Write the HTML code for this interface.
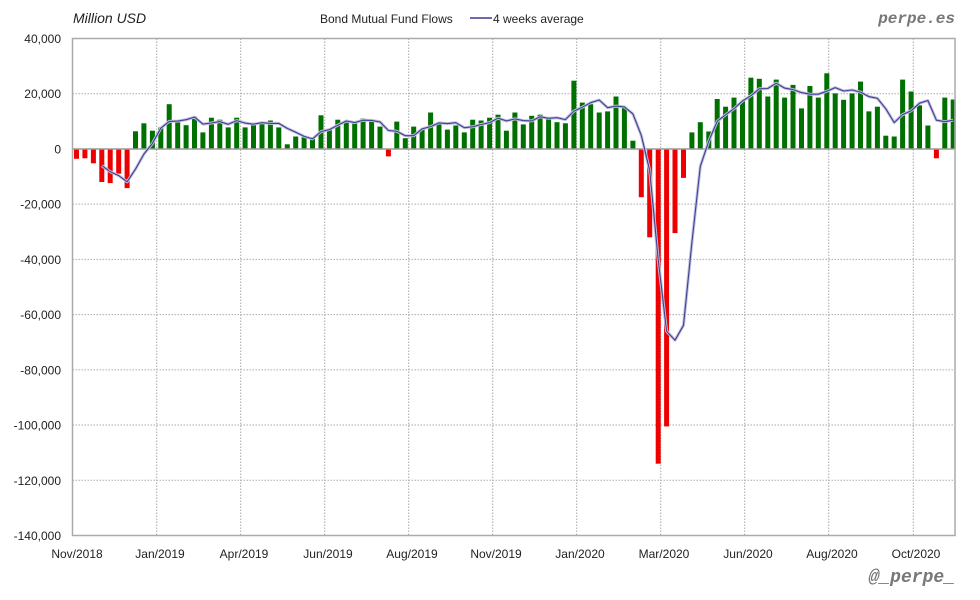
<!DOCTYPE html>
<html><head><meta charset="utf-8"><style>
html,body{margin:0;padding:0;background:#fff}
svg{display:block;font-family:"Liberation Sans",sans-serif}
</style></head><body>
<svg id="c" width="980" height="600" xmlns="http://www.w3.org/2000/svg">
<rect width="980" height="600" fill="#fff"/>
<text x="73" y="23" font-size="14" font-style="italic" fill="#222">Million USD</text>
<text x="320" y="23" font-size="12" fill="#222">Bond Mutual Fund Flows</text>
<line x1="470" y1="18" x2="492" y2="18" stroke="#3a3a90" stroke-width="1.5"/>
<text x="493" y="23" font-size="12" fill="#222">4 weeks average</text>
<text x="955" y="23" font-size="16" font-weight="bold" font-style="italic" fill="#777" text-anchor="end" font-family="Liberation Mono,monospace">perpe.es</text>
<text x="955" y="582" font-size="18" font-weight="bold" font-style="italic" fill="#777" text-anchor="end" font-family="Liberation Mono,monospace">@_perpe_</text>
<g id="g"></g>
</svg>
<script>
var d=[-3.6,-3.4,-5.2,-12,-12.4,-9,-14.2,6.4,9.3,6.6,7.8,16.2,9.7,8.6,11.7,6,11.3,10.6,7.8,11.3,7.8,9,9.9,10.3,7.8,1.7,4.5,4.2,4.2,12.2,7.4,10.6,10.3,9.8,11,10.3,8.1,-2.7,
9.9,3.9,8.1,7.2,13.2,9.3,7,8.5,6,10.6,10.3,11.3,12.4,6.6,13.2,8.9,12,12.4,11.1,9.7,9.3,24.7,16.8,16.2,13.2,13.6,19,15.1,3,-17.5,-32,-114,-100.5,-30.5,-10.5,6,9.7,6.3,
18.1,15.3,18.6,17.4,25.8,25.4,19,25.1,18.6,23.2,14.7,22.8,18.6,27.4,20.1,17.8,20.1,24.4,13.6,15.3,4.8,4.5,25.1,20.8,15.8,8.5,-3.4,18.6,17.9];
var L=72.5,R=955,T=38.5,B=535.5,k=(B-T)/180,Y=function(v){return T+(40-v)*k};
var s='';
for(var v=40;v>=-140;v-=20){var y=Y(v);
 if(v!=0&&v!=40&&v!=-140)s+='<line x1="'+L+'" x2="'+R+'" y1="'+y+'" y2="'+y+'" stroke="#aaa" stroke-dasharray="1.5,1.5"/>';
 s+='<text x="61" y="'+(y+4.5)+'" font-size="12" fill="#222" text-anchor="end">'+(v==0?'0':(v<0?'-':'')+Math.abs(v)+',000')+'</text>';}
var gx=[156.7,240.7,324.7,408.7,492.7,576.7,660.7,744.7,828.7,913.3];
gx.forEach(function(x){s+='<line x1="'+x+'" x2="'+x+'" y1="'+T+'" y2="'+B+'" stroke="#aaa" stroke-dasharray="1.5,1.5"/>';});
var labs=["Nov/2018","Jan/2019","Apr/2019","Jun/2019","Aug/2019","Nov/2019","Jan/2020","Mar/2020","Jun/2020","Aug/2020","Oct/2020"];
var lx=[77,160,244,328,412,496,580,664,748,832,916];
labs.forEach(function(t,i){s+='<text x="'+lx[i]+'" y="558" font-size="12" fill="#222" text-anchor="middle">'+t+'</text>';});
var z=Y(0),sp=8.43;
d.forEach(function(v,i){var x=76.5+i*sp-2.5,y=Y(v);
 s+='<rect x="'+x.toFixed(1)+'" y="'+Math.min(y,z).toFixed(1)+'" width="5" height="'+Math.abs(y-z).toFixed(1)+'" fill="'+(v<0?'#ee0000':'#007000')+'"/>';});
s+='<line x1="'+L+'" x2="'+R+'" y1="'+z+'" y2="'+z+'" stroke="#999" stroke-width="1.5"/>';
var p=[];for(var i=3;i<d.length;i++){var a=(d[i]+d[i-1]+d[i-2]+d[i-3])/4;p.push((76.5+i*sp).toFixed(1)+','+Y(a).toFixed(1));}
s+='<polyline points="'+p.join(' ')+'" fill="none" stroke="#c0c0e0" stroke-width="3" stroke-linejoin="round"/>';
s+='<polyline points="'+p.join(' ')+'" fill="none" stroke="#404090" stroke-width="1.1" stroke-linejoin="round"/>';
s+='<rect x="'+L+'" y="'+T+'" width="'+(R-L)+'" height="'+(B-T)+'" fill="none" stroke="#aaa" stroke-width="1.5"/>';
document.getElementById('g').innerHTML=s;
</script>
</body></html>
